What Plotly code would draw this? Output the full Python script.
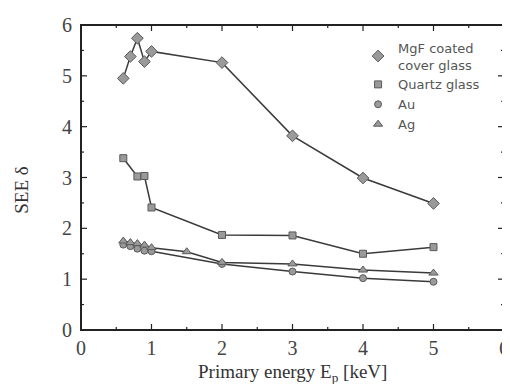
import plotly.graph_objects as go

# Data
mgf_x = [0.6, 0.7, 0.8, 0.9, 1.0, 2, 3, 4, 5]
mgf_y = [4.95, 5.38, 5.74, 5.28, 5.48, 5.26, 3.82, 2.99, 2.49]

quartz_x = [0.6, 0.8, 0.9, 1.0, 2, 3, 4, 5]
quartz_y = [3.38, 3.02, 3.03, 2.41, 1.87, 1.86, 1.50, 1.63]

au_x = [0.6, 0.7, 0.8, 0.9, 1.0, 2, 3, 4, 5]
au_y = [1.68, 1.65, 1.60, 1.56, 1.55, 1.30, 1.15, 1.02, 0.95]

ag_x = [0.6, 0.7, 0.8, 0.9, 1.0, 1.5, 2, 3, 4, 5]
ag_y = [1.75, 1.72, 1.70, 1.67, 1.62, 1.54, 1.33, 1.30, 1.18, 1.12]

major_ticks = [0, 1, 2, 3, 4, 5, 6]
minor_ticks = [0.5, 1.5, 2.5, 3.5, 4.5, 5.5]

LINE = "#3a3a3a"
MARK = "#9a9a9a"
MEDGE = "#5a5a5a"
FRAME = "#222222"

fig = go.Figure()

def add(x, y, name, symbol, size):
    fig.add_trace(go.Scatter(
        x=x, y=y, mode="lines", showlegend=False, hoverinfo="skip",
        line=dict(color=LINE, width=1.5),
    ))
    fig.add_trace(go.Scatter(
        x=x, y=y, name=name, mode="markers",
        marker=dict(symbol=symbol, size=size, color=MARK,
                    line=dict(color=MEDGE, width=1)),
    ))

add(mgf_x, mgf_y, "MgF coated<br>cover glass", "diamond", 9)
add(quartz_x, quartz_y, "Quartz glass", "square", 7)
add(au_x, au_y, "Au", "circle", 7)
add(ag_x, ag_y, "Ag", "triangle-up", 8)

axis_common = dict(
    showgrid=False, zeroline=False, showline=False, ticks="",
    tickmode="array", tickvals=major_ticks,
    tickfont=dict(family="Liberation Serif", size=20, color="#444"),
)
fig.update_xaxes(range=[0, 6], ticklabelstandoff=4, **axis_common)
fig.update_yaxes(range=[0, 6], ticklabelstandoff=8, **axis_common)

# frame
fig.add_shape(type="rect", xref="paper", yref="paper", x0=0, y0=0, x1=1, y1=1,
              line=dict(color=FRAME, width=2), layer="above")

# inward ticks on all four sides (positions from the tick lists)
def ticks(vals, length):
    for v in vals:
        fig.add_shape(type="line", xref="x", yref="paper", x0=v, x1=v,
                      ysizemode="pixel", yanchor=0, y0=0, y1=length,
                      line=dict(color=FRAME, width=1.2), layer="above")
        fig.add_shape(type="line", xref="x", yref="paper", x0=v, x1=v,
                      ysizemode="pixel", yanchor=1, y0=0, y1=-length,
                      line=dict(color=FRAME, width=1.2), layer="above")
        fig.add_shape(type="line", yref="y", xref="paper", y0=v, y1=v,
                      xsizemode="pixel", xanchor=0, x0=0, x1=length,
                      line=dict(color=FRAME, width=1.2), layer="above")
        fig.add_shape(type="line", yref="y", xref="paper", y0=v, y1=v,
                      xsizemode="pixel", xanchor=1, x0=0, x1=-length,
                      line=dict(color=FRAME, width=1.2), layer="above")

ticks(major_ticks[1:-1], 6)
ticks(minor_ticks, 3)

fig.add_annotation(text="Primary energy E<sub>p</sub> [keV]",
                   xref="paper", yref="paper", x=0.5, y=0,
                   xanchor="center", yanchor="middle", yshift=-43,
                   showarrow=False,
                   font=dict(family="Liberation Serif", size=19, color="#333"))
fig.add_annotation(text="SEE δ", textangle=-90,
                   xref="paper", yref="paper", x=0, y=0.46,
                   xanchor="center", yanchor="middle", xshift=-59,
                   showarrow=False,
                   font=dict(family="Liberation Serif", size=19, color="#333"))

# page body has an 8px margin, so the figure is shrunk/offset to match
fig.update_layout(
    width=502, height=376,
    margin=dict(l=73, r=6, t=17, b=54, autoexpand=False),
    paper_bgcolor="white", plot_bgcolor="white",
    showlegend=True,
    legend=dict(x=0.655, y=0.975, xanchor="left", yanchor="top",
                bgcolor="rgba(0,0,0,0)",
                font=dict(family="DejaVu Sans", size=13, color="#555"),
                itemwidth=30, tracegroupgap=0),
)

fig.write_html("out.html")
